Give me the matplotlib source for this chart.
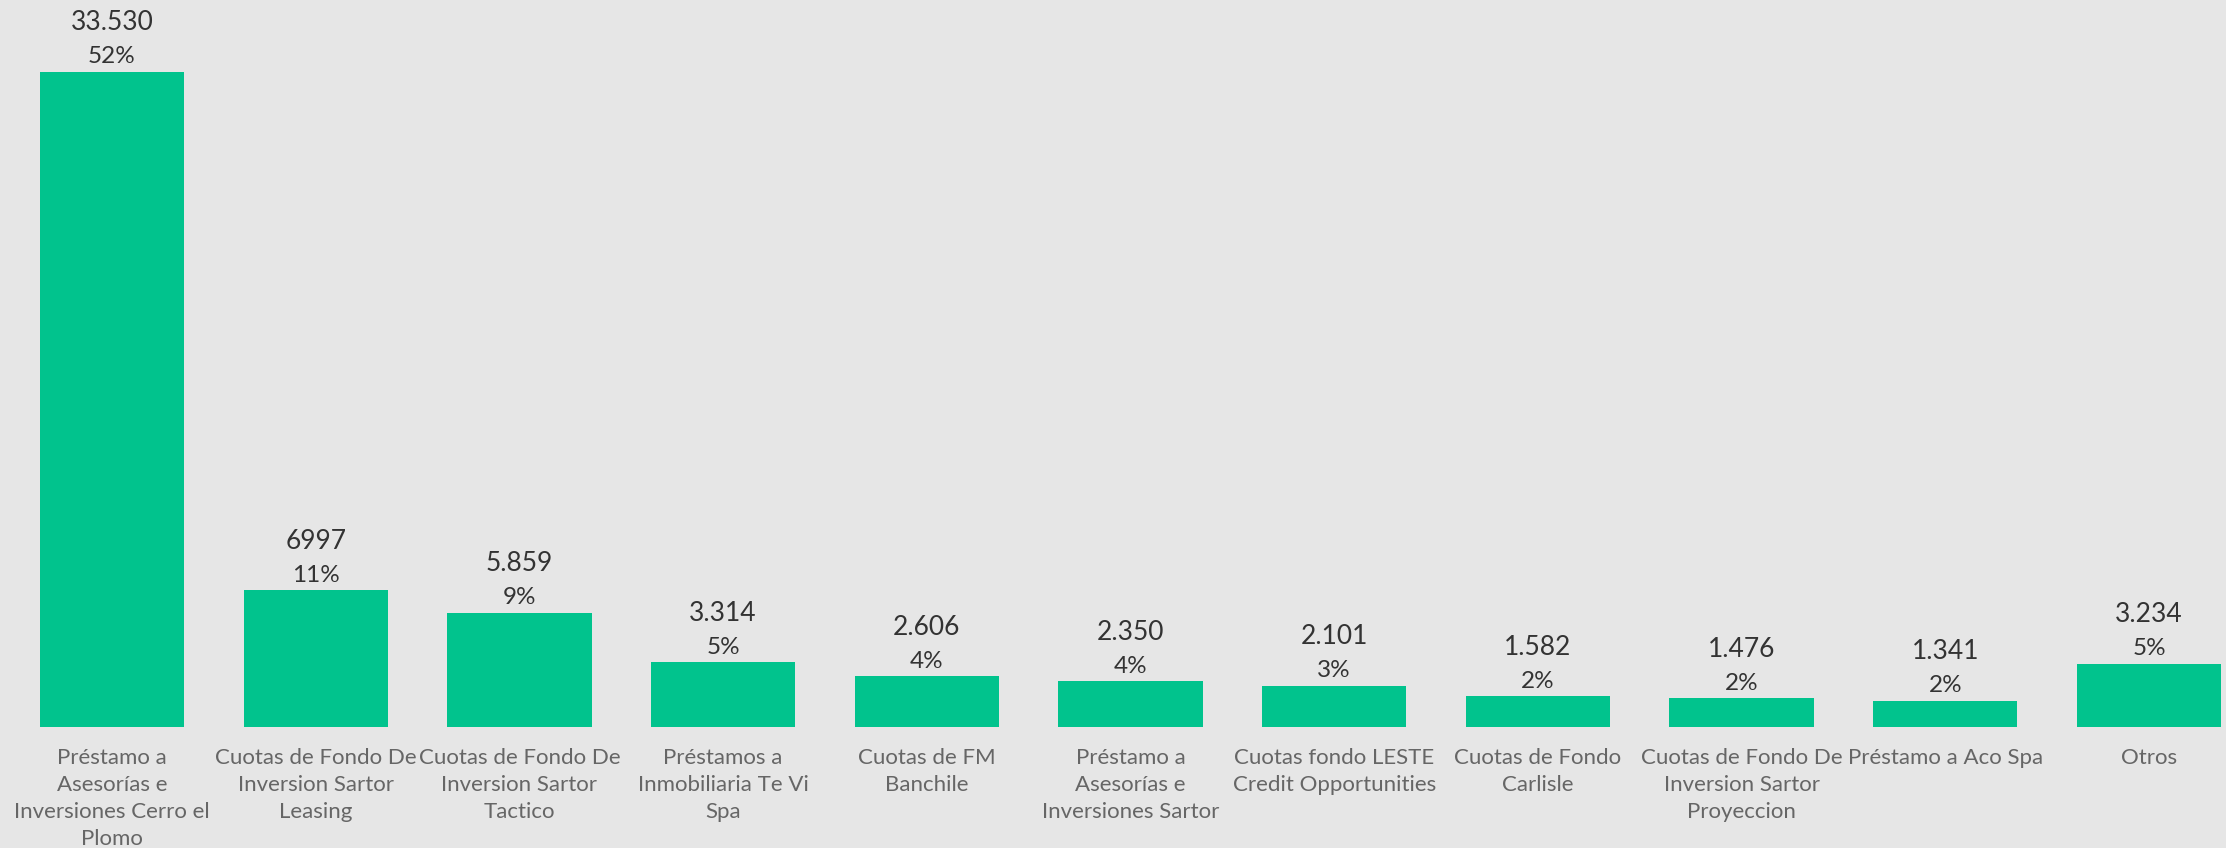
import matplotlib.pyplot as plt
from matplotlib import font_manager

# data
categories = [
    "Préstamo a\nAsesorías e\nInversiones Cerro el\nPlomo",
    "Cuotas de Fondo De\nInversion Sartor\nLeasing",
    "Cuotas de Fondo De\nInversion Sartor\nTactico",
    "Préstamos a\nInmobiliaria Te Vi\nSpa",
    "Cuotas de FM\nBanchile",
    "Préstamo a\nAsesorías e\nInversiones Sartor",
    "Cuotas fondo LESTE\nCredit Opportunities",
    "Cuotas de Fondo\nCarlisle",
    "Cuotas de Fondo De\nInversion Sartor\nProyeccion",
    "Préstamo a Aco Spa",
    "Otros",
]
values = [33530, 6997, 5859, 3314, 2606, 2350, 2101, 1582, 1476, 1341, 3234]
value_labels = ["33.530", "6997", "5.859", "3.314", "2.606", "2.350",
                "2.101", "1.582", "1.476", "1.341", "3.234"]
pct_labels = ["52%", "11%", "9%", "5%", "4%", "4%", "3%", "2%", "2%", "2%", "5%"]

bg = "#e6e6e6"
bar_color = "#01c38d"

names = {f.name for f in font_manager.fontManager.ttflist}
family = "Lato" if "Lato" in names else "Open Sans"

W, H, dpi = 2226, 848, 100
fig = plt.figure(figsize=(W / dpi, H / dpi), dpi=dpi, facecolor=bg)
# axes bottom sits on the bar baseline
ax = fig.add_axes([0, (H - 727) / H, 1, 727 / H])
ax.set_facecolor(bg)

x = list(range(len(values)))
ax.bar(x, values, width=0.708, color=bar_color)

slot = 203.7
ax.set_xlim(-112 / slot, (W - 112) / slot)
ax.set_ylim(0, 33530 * 727 / 655)

for xi, v, vl, pl in zip(x, values, value_labels, pct_labels):
    ax.annotate(vl, (xi, v), xytext=(0, 49), textcoords="offset pixels",
                ha="center", va="center", fontsize=19, color="#333333",
                family=family)
    ax.annotate(pl, (xi, v), xytext=(0, 15), textcoords="offset pixels",
                ha="center", va="center", fontsize=17.5, color="#333333",
                family=family)

ax.set_xticks(x)
ax.set_xticklabels(categories, fontsize=16, color="#666666", family=family,
                   linespacing=1.45)
ax.tick_params(axis="x", length=0, pad=15)
ax.set_yticks([])
for s in ax.spines.values():
    s.set_visible(False)

fig.savefig("out.png", dpi=dpi, facecolor=bg)
